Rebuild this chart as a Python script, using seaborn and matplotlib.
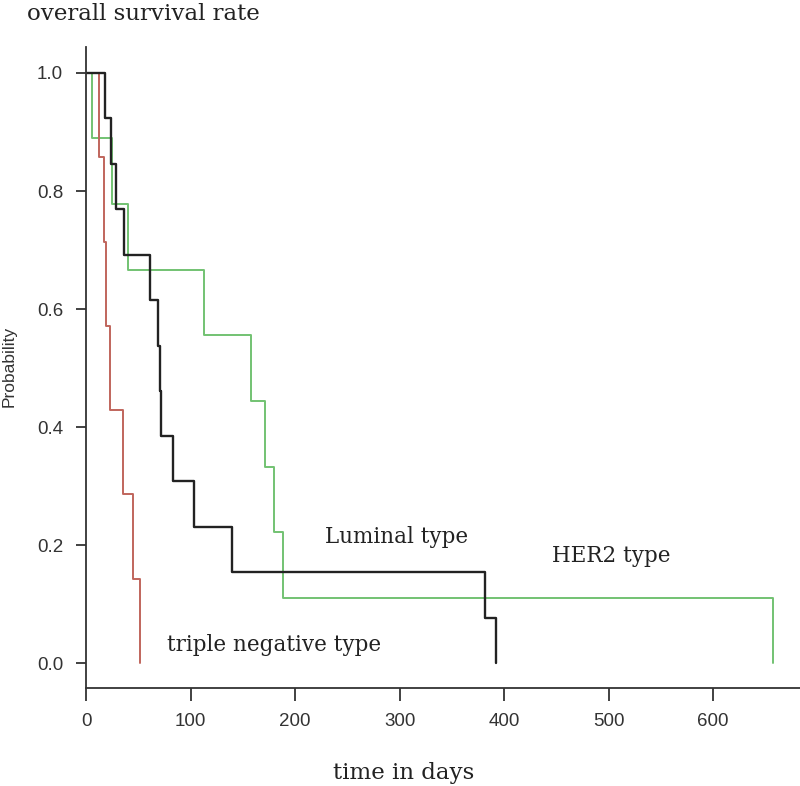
import pandas as pd
import matplotlib
matplotlib.use('Agg')
import matplotlib.pyplot as plt
import seaborn as sns

# Kaplan-Meier step points (time in days, survival probability)
luminal_days = [0, 18, 24, 29, 36.5, 61, 69, 70.5, 72, 83.5, 103.5, 139.5, 381.5, 392.5]
luminal_surv = [1.0, 0.923, 0.846, 0.769, 0.692, 0.615, 0.538, 0.462, 0.385, 0.308, 0.231, 0.154, 0.077, 0.0]

her2_days = [0, 6, 24.5, 40.5, 113, 158, 171, 180, 188, 657]
her2_surv = [1.0, 0.889, 0.778, 0.667, 0.556, 0.444, 0.333, 0.222, 0.111, 0.0]

tn_days = [0, 12.7, 17.5, 19, 22.5, 35, 45, 51.5]
tn_surv = [1.0, 0.857, 0.714, 0.571, 0.429, 0.286, 0.143, 0.0]

groups = ['HER2 type', 'triple negative type', 'Luminal type']
x_ticks = [0, 100, 200, 300, 400, 500, 600]
y_ticks = [0.0, 0.2, 0.4, 0.6, 0.8, 1.0]

df = pd.concat([
    pd.DataFrame({'time': her2_days, 'surv': her2_surv, 'group': groups[0]}),
    pd.DataFrame({'time': tn_days, 'surv': tn_surv, 'group': groups[1]}),
    pd.DataFrame({'time': luminal_days, 'surv': luminal_surv, 'group': groups[2]}),
], ignore_index=True)

sns.set_style('ticks')
plt.rcParams['font.family'] = ['Liberation Sans', 'DejaVu Sans']

fig = plt.figure(figsize=(8, 7.86), dpi=100)
ax = fig.add_axes([0.1075, 0.1247, 0.8925, 0.8155])

palette = {'HER2 type': '#72c272', 'triple negative type': '#c0655c', 'Luminal type': '#222222'}
sns.lineplot(data=df, x='time', y='surv', hue='group', palette=palette,
             estimator=None, sort=False, drawstyle='steps-post',
             legend=False, ax=ax, linewidth=1.4)
for line in ax.get_lines():
    if line.get_color() == '#222222':
        line.set_linewidth(1.7)

ax.set_xlim(0, 683)
ax.set_ylim(-0.042, 1.044)
ax.set_xticks(x_ticks)
ax.set_yticks(y_ticks)
ax.set_yticklabels([f'{v:.1f}' for v in y_ticks])
ax.set_xlabel('')
ax.set_ylabel('')
sns.despine(ax=ax)
for s in ['left', 'bottom']:
    ax.spines[s].set_linewidth(1.3)
    ax.spines[s].set_color('#333333')
ax.tick_params(axis='y', length=7.5, width=1.3, color='#333333', pad=9,
               labelsize=13.5, labelcolor='#333333')
ax.tick_params(axis='x', length=9, width=1.3, color='#333333', pad=9,
               labelsize=13.5, labelcolor='#333333')

serif = ['DejaVu Serif']
txt = '#222222'
fig.text(27 / 800, 1 - 3 / 786, 'overall survival rate', family=serif,
         fontsize=16.5, color=txt, ha='left', va='top')
fig.text(404 / 800, 1 - 773 / 786, 'time in days', family=serif,
         fontsize=16.5, color=txt, ha='center', va='center')
fig.text(9 / 800, 1 - 366 / 786, 'Probability', rotation=90, fontsize=12.5,
         color='#333333', ha='center', va='center')

ax.text(297, 0.213, 'Luminal type', family=serif, fontsize=15.5, color=txt,
        ha='center', va='center')
ax.text(502, 0.181, 'HER2 type', family=serif, fontsize=15.5, color=txt,
        ha='center', va='center')
ax.text(180, 0.031, 'triple negative type', family=serif, fontsize=15.5,
        color=txt, ha='center', va='center')

fig.savefig('out.png', dpi=100)
